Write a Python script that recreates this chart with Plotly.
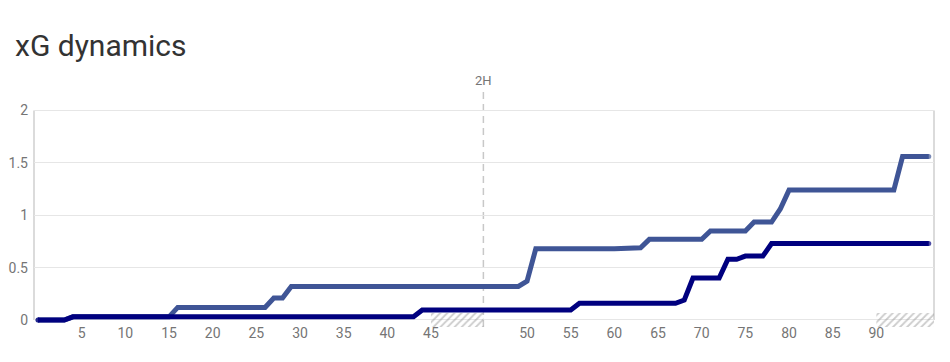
import plotly.graph_objects as go

# Timeline positions (minutes elapsed incl. 1st-half stoppage) and cumulative xG at vertices
team_a_x = [0, 3, 4, 15, 16, 26, 27, 28, 29, 55, 56, 57, 66, 69, 70, 76, 77, 81, 82, 84, 85, 86, 98, 99, 102]
team_a_y = [0, 0, 0.03, 0.03, 0.12, 0.12, 0.21, 0.21, 0.32, 0.32, 0.37, 0.68, 0.68, 0.69, 0.77, 0.77, 0.85, 0.85, 0.935, 0.935, 1.06, 1.24, 1.24, 1.56, 1.56]

team_b_x = [0, 3, 4, 43, 44, 61, 62, 73, 74, 75, 78, 79, 80, 81, 83, 84, 102]
team_b_y = [0, 0, 0.03, 0.03, 0.095, 0.095, 0.16, 0.16, 0.19, 0.40, 0.40, 0.58, 0.58, 0.61, 0.61, 0.73, 0.73]

tick_pos = [5, 10, 15, 20, 25, 30, 35, 40, 45, 56, 61, 66, 71, 76, 81, 86, 91, 96]
tick_text = ["5", "10", "15", "20", "25", "30", "35", "40", "45",
             "50", "55", "60", "65", "70", "75", "80", "85", "90"]

half_time_pos = 51
stoppage_1 = [45, 51]
stoppage_2 = [96, 102.6]
x_range = [-0.46, 102.6]
y_range = [-0.067, 2.196]

color_a = "#3f5596"
color_b = "#00007f"
grid_color = "#e6e6e6"
label_color = "#757575"

fig = go.Figure()

# hatched stoppage-time bands
for s0, s1 in (stoppage_1, stoppage_2):
    fig.add_trace(go.Scatter(
        x=[s0, s1, s1, s0, s0], y=[-0.067, -0.067, 0.067, 0.067, -0.067],
        mode="lines", line=dict(width=0), fill="toself",
        fillcolor="rgba(0,0,0,0)",
        fillpattern=dict(shape="/", fgcolor="#999999", bgcolor="rgba(255,255,255,0)", size=5, solidity=0.35),
        hoverinfo="skip", showlegend=False))

def end_sizes(n, s):
    return [s] + [0] * (n - 2) + [s]

fig.add_trace(go.Scatter(
    x=team_a_x, y=team_a_y, mode="lines+markers",
    line=dict(color=color_a, width=5),
    marker=dict(color=color_a, size=end_sizes(len(team_a_x), 5), line=dict(width=0)),
    showlegend=False))
fig.add_trace(go.Scatter(
    x=team_b_x, y=team_b_y, mode="lines+markers",
    line=dict(color=color_b, width=5),
    marker=dict(color=color_b, size=end_sizes(len(team_b_x), 5), line=dict(width=0)),
    showlegend=False))

shapes = [
    dict(type="line", xref="paper", yref="y", x0=0, x1=0, y0=0, y1=2,
         line=dict(color="#cfcfcf", width=1.5), layer="below"),
    dict(type="line", xref="paper", yref="y", x0=1, x1=1, y0=0, y1=2,
         line=dict(color="#cfcfcf", width=1.5), layer="below"),
    dict(type="line", xref="x", yref="y", x0=half_time_pos, x1=half_time_pos,
         y0=y_range[0], y1=2.18, line=dict(color="#c8c8c8", width=1.5, dash="7px,5px"),
         layer="below"),
]

fig.update_layout(
    width=950, height=362,
    margin=dict(l=34, r=16, t=90, b=35, autoexpand=False),
    paper_bgcolor="white", plot_bgcolor="white",
    font=dict(family="Roboto", color=label_color, size=14),
    title=dict(text="xG dynamics", x=15 / 950, xref="container", xanchor="left",
               y=1 - 45 / 362, yref="container", yanchor="middle",
               font=dict(family="Roboto", size=30, color="#333333")),
    xaxis=dict(range=x_range, tickmode="array", tickvals=tick_pos, ticktext=tick_text,
               showgrid=False, zeroline=False, showline=False, ticks="",
               automargin=False, ticklabelstandoff=-4,
               tickfont=dict(size=14, color=label_color), fixedrange=True),
    yaxis=dict(range=y_range, tickmode="array", tickvals=[0, 0.5, 1, 1.5, 2],
               ticktext=["0", "0.5", "1", "1.5", "2"],
               showgrid=True, gridcolor=grid_color, gridwidth=1,
               zeroline=False, showline=False, ticks="",
               automargin=False, ticklabelstandoff=5,
               tickfont=dict(size=14, color=label_color), fixedrange=True),
    shapes=shapes,
    annotations=[dict(text="2H", x=half_time_pos, xref="x", y=1, yref="paper",
                      yanchor="bottom", yshift=0, showarrow=False,
                      font=dict(size=13, color=label_color))],
)

fig.write_html("out.html")
